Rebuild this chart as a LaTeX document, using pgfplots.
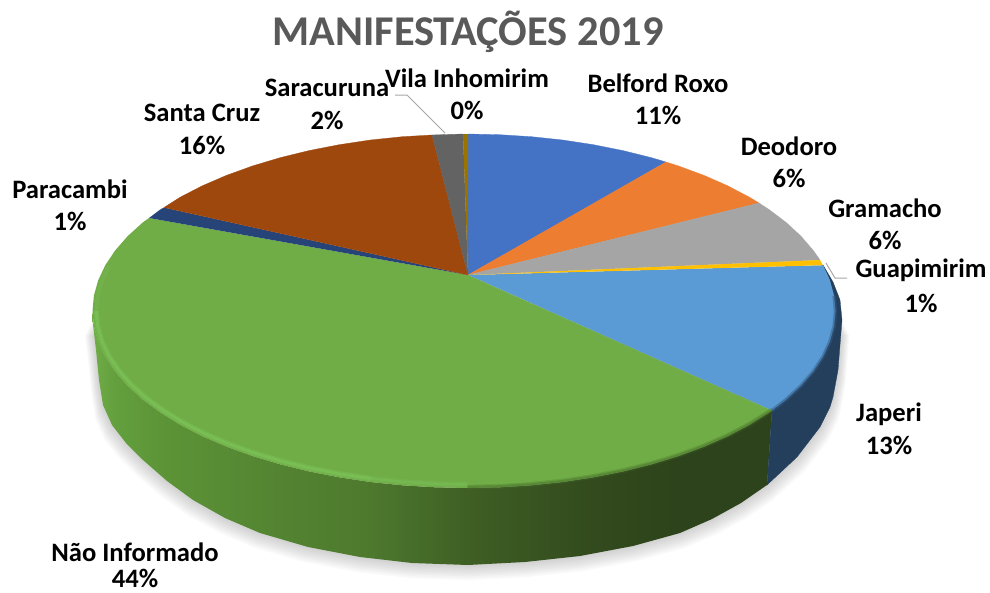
\documentclass[border=0pt]{standalone}
\usepackage{pgfplots}
\pgfplotsset{compat=1.18}
\usepackage{pgfplotstable}
\usepackage{fontspec}
\setmainfont{Carlito}
\definecolor{gZ}{RGB}{112,173,71}
\definecolor{gA}{RGB}{100,160,62}
\definecolor{gB}{RGB}{92,148,55}
\definecolor{gC}{RGB}{84,133,50}
\definecolor{gD}{RGB}{78,122,46}
\definecolor{gE}{RGB}{62,94,36}
\definecolor{gF}{RGB}{50,74,29}
\definecolor{gG}{RGB}{45,67,27}
\definecolor{cBelford}{RGB}{68,114,196}
\definecolor{cDeodoro}{RGB}{237,125,49}
\definecolor{cGramacho}{RGB}{165,165,165}
\definecolor{cGuapi}{RGB}{255,192,0}
\definecolor{cJaperi}{RGB}{91,155,213}
\definecolor{cJaperiSide}{RGB}{36,63,92}
\definecolor{cNao}{RGB}{112,173,71}
\definecolor{cPara}{RGB}{38,68,120}
\definecolor{cSanta}{RGB}{158,72,14}
\definecolor{cSara}{RGB}{99,99,99}
\definecolor{cVila}{RGB}{153,115,0}
\definecolor{cLead}{RGB}{166,166,166}
\definecolor{cTitle}{RGB}{89,89,89}
\definecolor{rimLight}{RGB}{130,205,98}
\definecolor{rimDark}{RGB}{70,110,42}
\definecolor{rimBlue}{RGB}{50,90,130}
\pgfdeclarehorizontalshading{greenside}{100bp}{color(0bp)=(gZ);color(25bp)=(gZ);color(26.5bp)=(gA);color(30bp)=(gB);color(38bp)=(gC);color(45bp)=(gD);color(53bp)=(gE);color(62bp)=(gF);color(68bp)=(gG);color(100bp)=(gG)}
% outer body of the pie, for its soft shadow
\pgfplotstableread{
x y
92.5 320
96 350
99 380
103 405
112 425
126 443
143 460
167 481
193 500
225 518
260 533
308 547
360 557
412 563
468 565
525 562
580 556
633 546
680 533
712 519
741 503
767 485
797 457
820 427
830 407
833 397
838 370
842 320
}\outline
\pgfplotstableread{
x y
105.3 265.2
98.2 280.3
93.9 295.6
92.5 311
}\rimU
\pgfplotstableread{
x y
92.5 311
93.9 326.4
98.2 341.7
105.3 356.8
115.1 371.5
127.6 385.8
142.7 399.5
160.3 412.5
180.2 424.8
202.3 436.2
226.4 446.6
252.4 456
280 464.3
309 471.4
339.2 477.3
370.4 482
}\rimL
\pgfplotstableread{
x y
370.4 482
402.4 485.3
434.8 487.3
467.5 488
}\rimM
\pgfplotstableread{
x y
467.5 488
499.6 487.3
531.4 485.3
}\rimN
\pgfplotstableread{
x y
467.5 488
499.6 487.3
531.4 485.3
562.7 482
593.4 477.3
623 471.4
651.5 464.3
678.6 456
704.1 446.6
727.7 436.2
749.4 424.8
769 412.5
772 410.5
}\rimR
\pgfplotstableread{
x y
772 410.5
786.2 399.5
801 385.8
813.3 371.5
823 356.8
829.9 341.7
834.1 326.4
835.5 311
834.1 295.6
}\rimB
\pgfplotsset{slice/.style={fill=#1,draw=#1,line width=0.3pt,mark=none,forget plot}}
\def\ix{467.5+(\thisrow{x}-467.5)*0.99}
\def\iy{311+(\thisrow{y}-311)*0.98}
\begin{document}
\begin{tikzpicture}
\useasboundingbox (0,0) rectangle (990pt,592pt);
\begin{axis}[at={(0,0)},anchor=south west,scale only axis,width=990pt,height=592pt,
  xmin=0,xmax=990,ymin=0,ymax=592,y dir=reverse,hide axis,clip=false]
% shadow
\pgfplotsinvokeforeach{1,2,3,4,5,6,7,8}{
\addplot[fill=black,draw=none,fill opacity=0.024,mark=none,forget plot]
  table[x expr={467.5+(\thisrow{x}-467.5)*(1+0.0025*#1)},y expr={\thisrow{y}+1.9*#1}]{\outline};
}
% side walls
\addplot[draw=none,shading=greenside,mark=none,forget plot] coordinates {
(92.5,311)(93.9,326.4)(98.2,341.7)(105.3,356.8)(115.1,371.5)(127.6,385.8)(142.7,399.5)(160.3,412.5)(180.2,424.8)(202.3,436.2)(226.4,446.6)(252.4,456)(280,464.3)(309,471.4)(339.2,477.3)(370.4,482)(402.4,485.3)(434.8,487.3)(467.5,488)(499.6,487.3)(531.4,485.3)(562.7,482)(593.4,477.3)(623,471.4)(651.5,464.3)(678.6,456)(704.1,446.6)(727.7,436.2)(749.4,424.8)(772,410.5)
(767,485)(741,503)(712,519)(680,533)(633,546)(580,556)(525,562)(468,565)(412,563)(360,557)(308,547)(260,533)(225,518)(193,500)(167,481)(143,460)(126,443)(112,425)(103,405)(99,380)(96,350)(92.5,320)(92.5,311)};
\addplot[slice=cJaperiSide] coordinates {
(823,265)(829.9,280.3)(835.5,311)(829.9,341.7)(813.3,371.5)(786.2,399.5)(772,410.5)(767,485)(797,457)(820,427)(830,407)(833,397)(838,370)(842,320)(840,300)(833,282)(823,265)};
% top face, clockwise from twelve o'clock
\addplot[slice=cBelford] coordinates {
(468,275)(468,134)(499.6,134.7)(531.4,136.7)(562.7,140)(593.4,144.7)(623,150.6)(651.5,157.7)(666,162)(468,275)};
\addplot[slice=cDeodoro] coordinates {
(468,275)(666,162)(678.6,166)(704.1,175.4)(727.7,185.8)(749.4,197.2)(759,203)(468,275)};
\addplot[slice=cGramacho] coordinates {
(468,275)(759,203)(769,209.5)(786.2,222.5)(801,236.2)(813.3,250.5)(820,260)(468,275)};
\addplot[fill=cJaperi,draw=none,mark=none,forget plot] coordinates {
(468,275)(823,265.2)(829.9,280.3)(834.1,295.6)(835.5,311)(834.1,326.4)(829.9,341.7)(823,356.8)(813.3,371.5)(801,385.8)(786.2,399.5)(772,410.5)(468,275)};
\addplot[fill=cNao,draw=none,mark=none,forget plot] coordinates {
(468,275)(772,410.5)(769,412.5)(749.4,424.8)(727.7,436.2)(704.1,446.6)(678.6,456)(651.5,464.3)(623,471.4)(593.4,477.3)(562.7,482)(531.4,485.3)(499.6,487.3)(467.5,488)(434.8,487.3)(402.4,485.3)(370.4,482)(339.2,477.3)(309,471.4)(280,464.3)(252.4,456)(226.4,446.6)(202.3,436.2)(180.2,424.8)(160.3,412.5)(142.7,399.5)(127.6,385.8)(115.1,371.5)(105.3,356.8)(98.2,341.7)(93.9,326.4)(92.5,311)(93.9,295.6)(98.2,280.3)(105.3,265.2)(115.1,250.5)(127.6,236.2)(142.7,222.5)(149,218)(468,275)};
\addplot[fill=cPara,draw=none,mark=none,forget plot] coordinates {
(468,275)(149,218)(160.3,209.5)(164,207.5)(468,275)};
\addplot[slice=cSanta] coordinates {
(468,275)(164,207.5)(180.2,197.2)(202.3,185.8)(226.4,175.4)(252.4,166)(280,157.7)(309,150.6)(339.2,144.7)(370.4,140)(402.4,136.7)(432,135)(468,275)};
\addplot[slice=cSara] coordinates {
(468,275)(432,135)(463,134)(468,275)};
\addplot[fill=cVila,draw=none,mark=none,forget plot] coordinates {
(468,275)(463,134)(468,134)(468,275)};
\addplot[fill=cGuapi,draw=none,mark=none,forget plot] coordinates {
(468,275)(820,260)(823,265.2)(468,275)};
% bevel of the rim
\addplot[draw=rimLight,line width=4pt,opacity=0.15,mark=none,forget plot] table[x expr={\ix},y expr={\iy}]{\rimU};
\addplot[draw=rimLight,line width=5.5pt,opacity=0.25,mark=none,forget plot] table[x expr={\ix},y expr={\iy}]{\rimL};
\addplot[draw=rimLight,line width=2.6pt,opacity=0.4,mark=none,forget plot] table[x expr={\ix},y expr={\iy}]{\rimL};
\addplot[draw=rimLight,line width=5.5pt,opacity=0.15,mark=none,forget plot] table[x expr={\ix},y expr={\iy}]{\rimM};
\addplot[draw=rimLight,line width=2.6pt,opacity=0.22,mark=none,forget plot] table[x expr={\ix},y expr={\iy}]{\rimM};
\addplot[draw=rimLight,line width=3pt,opacity=0.08,mark=none,forget plot] table[x expr={\ix},y expr={\iy}]{\rimN};
\addplot[draw=rimDark,line width=5pt,opacity=0.25,mark=none,forget plot] table[x expr=\thisrow{x},y expr={311+(\thisrow{y}-311)*0.995}]{\rimR};
\addplot[draw=rimDark,line width=2.5pt,opacity=0.4,mark=none,forget plot] table[x expr=\thisrow{x},y expr={311+(\thisrow{y}-311)*0.995}]{\rimR};
\addplot[draw=rimBlue,line width=3.5pt,opacity=0.5,mark=none,forget plot] table{\rimB};
% leader lines
\addplot[draw=cLead,line width=1pt,mark=none,forget plot] coordinates {(395,95)(407,95)(445,133)};
\addplot[draw=cLead,line width=1pt,mark=none,forget plot] coordinates {(826,263)(835,278)(847,278)};
% texts
\def\lb#1#2#3{\node[font=\fontsize{26.6}{28}\selectfont\bfseries,text=black,inner sep=0pt,anchor=center] at (axis cs:#1,#2) {#3};}
\node[font=\fontsize{42.4}{44}\selectfont\bfseries,text=cTitle,inner sep=0pt] at (axis cs:468,32) {MANIFESTAÇÕES 2019};
\lb{658}{83}{Belford Roxo}\lb{658}{115}{11\%}
\lb{789}{146}{Deodoro}\lb{789}{178}{6\%}
\lb{885}{208}{Gramacho}\lb{885}{240}{6\%}
\lb{921}{270}{Guapimirim}\lb{921}{303}{1\%}
\lb{889}{414}{Japeri}\lb{889}{445}{13\%}
\lb{135}{552}{Não Informado}\lb{135}{578}{44\%}
\lb{70}{189}{Paracambi}\lb{70}{221}{1\%}
\lb{202}{113}{Santa Cruz}\lb{202}{145}{16\%}
\lb{327}{88}{Saracuruna}\lb{327}{120}{2\%}
\lb{467}{78}{Vila Inhomirim}\lb{467}{110}{0\%}
\end{axis}
\end{tikzpicture}
\end{document}
